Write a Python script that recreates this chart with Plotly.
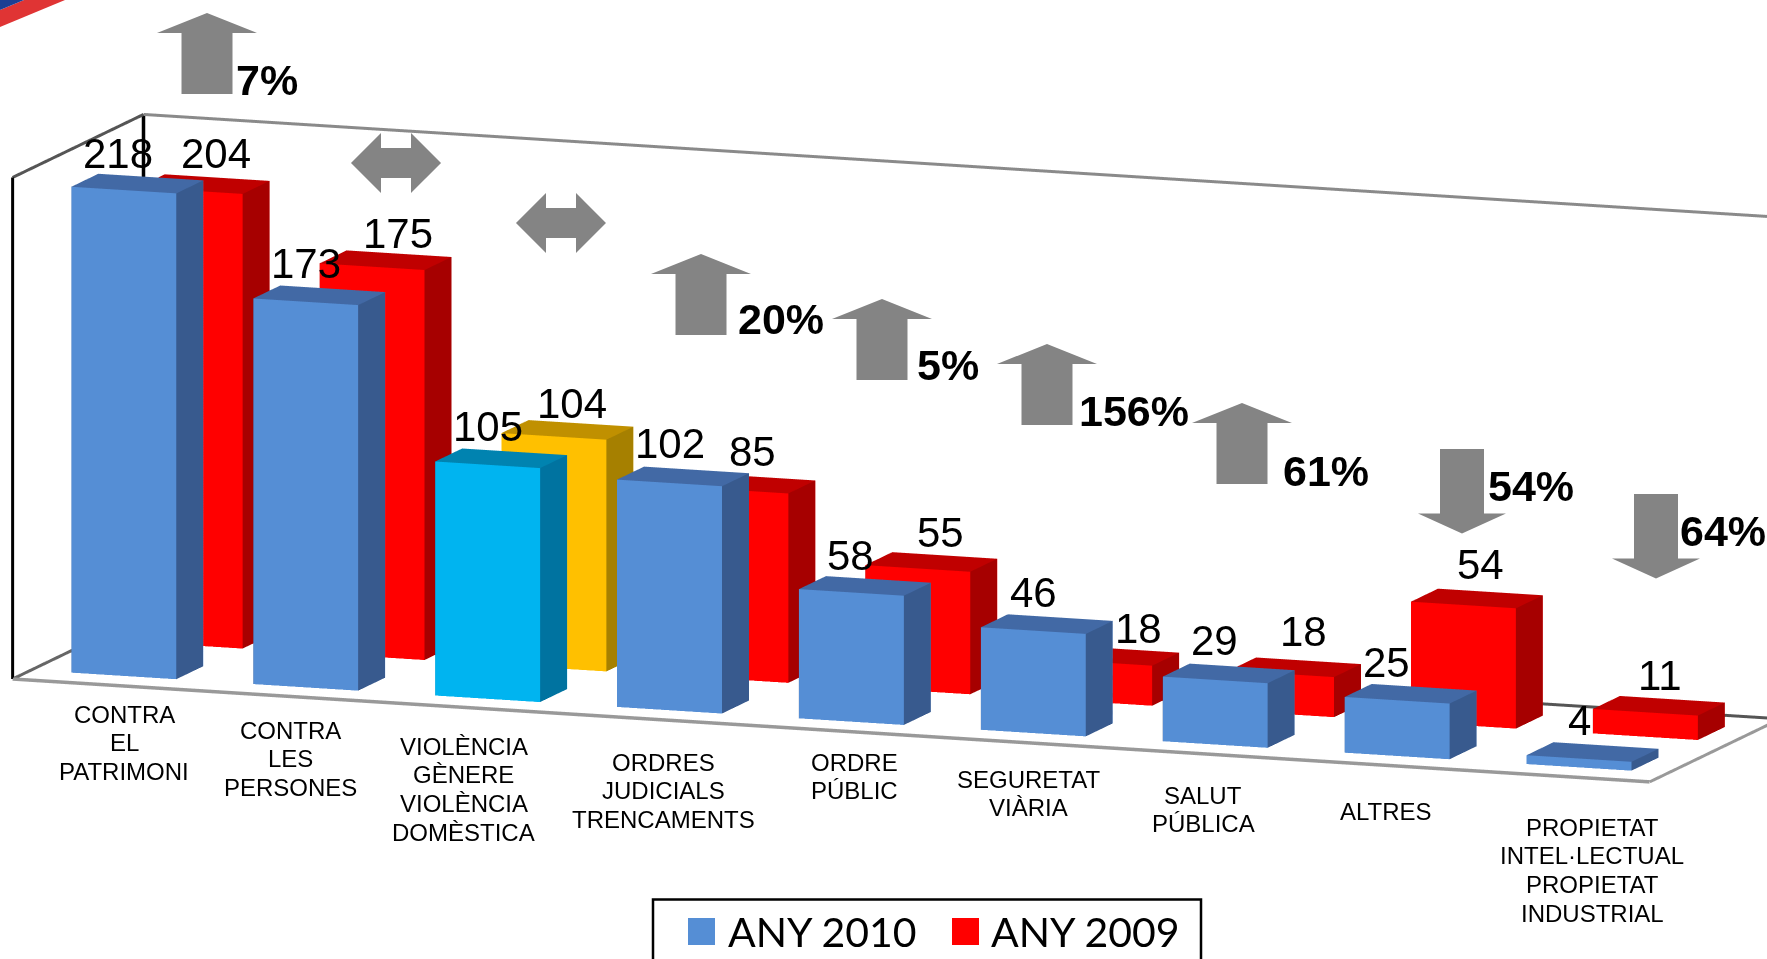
import numpy as np
import plotly.graph_objects as go

W, H = 1767, 959

# ---------- data ----------
categories = [
    ["CONTRA", "EL", "PATRIMONI"],
    ["CONTRA", "LES", "PERSONES"],
    ["VIOLÈNCIA", "GÈNERE", "VIOLÈNCIA", "DOMÈSTICA"],
    ["ORDRES", "JUDICIALS", "TRENCAMENTS"],
    ["ORDRE", "PÚBLIC"],
    ["SEGURETAT", "VIÀRIA"],
    ["SALUT", "PÚBLICA"],
    ["ALTRES"],
    ["PROPIETAT", "INTEL·LECTUAL", "PROPIETAT", "INDUSTRIAL"],
]
any_2010 = [218, 173, 105, 102, 58, 46, 29, 25, 4]
any_2009 = [204, 175, 104, 85, 55, 18, 18, 54, 11]
changes = ["7%", "=", "=", "20%", "5%", "156%", "61%", "54%", "64%"]

# ---------- style ----------
BLUE = ("#558ed5", "#385a8e", "#4269a5")      # front, side, top
RED = ("#ff0000", "#a60000", "#c00000")
CYAN = ("#00b4f0", "#0073a0", "#0083b0")
AMBER = ("#ffc000", "#a68000", "#c09000")
GREY = "#848484"

# target on-screen vectors, pixels per data unit (right, up)
ex = np.array([181.9, -11.43])   # one category
ey = np.array([27.0, 13.0])      # one bar depth
ez = np.array([0.0, 2.229])      # one count
origin_px = np.array([12.6, H - 679.0])  # front-left floor corner
XMAX, YMAX, ZMAX = 9.0, 4.85, 225.0
BAR_W, BAR_X0 = 0.577, 0.222
D_2010, D_2009, RED_DX = 0.68, 3.05, 0.013

# orthographic camera reproducing those vectors
v = -(ex[0] * ex[1]) / (ey[0] * ey[1])
w = ((ex[0]**2 - ex[1]**2) + (ey[0]**2 - ey[1]**2) * v) / ez[1]**2
lx, ly, lz = 1.0, 1 / np.sqrt(v), 1 / np.sqrt(w)
S = np.sqrt(ex[0]**2 + ey[0]**2 * v)
r1 = np.array([ex[0], ey[0] * np.sqrt(v), 0]) / S
r2 = np.array([ex[1], ey[1] * np.sqrt(v), ez[1] * np.sqrt(w)]) / S
n = np.cross(r1, r2)
P = 479.5                # pixels per unit of scene space in orthographic mode
aspect = np.array([XMAX * lx, YMAX * ly, ZMAX * lz]) * S / P
box_c = np.array([XMAX / 2, YMAX / 2, ZMAX / 2])
target = origin_px + box_c[0] * ex + box_c[1] * ey + box_c[2] * ez
shift = target - np.array([W / 2, H / 2])
center = -(shift[0] * r1 + shift[1] * r2) / P
eye = center + n * 2.0


def box_trace(x0, x1, y0, y1, h, cols, name):
    X = [x0, x1, x1, x0, x0, x1, x1, x0]
    Y = [y0, y0, y1, y1, y0, y0, y1, y1]
    Z = [0, 0, 0, 0, h, h, h, h]
    faces = [
        (0, 1, 5, cols[0]), (0, 5, 4, cols[0]),   # front
        (1, 2, 6, cols[1]), (1, 6, 5, cols[1]),   # side
        (4, 5, 6, cols[2]), (4, 6, 7, cols[2]),   # top
        (3, 2, 6, cols[0]), (3, 6, 7, cols[0]),
        (0, 3, 7, cols[1]), (0, 7, 4, cols[1]),
    ]
    return go.Mesh3d(
        x=X, y=Y, z=Z,
        i=[f[0] for f in faces], j=[f[1] for f in faces], k=[f[2] for f in faces],
        facecolor=[f[3] for f in faces], flatshading=True,
        lighting=dict(ambient=1, diffuse=0, specular=0, fresnel=0, roughness=1),
        hoverinfo="skip", name=name, showscale=False,
    )


def line3d(pts, color, width):
    p = np.array(pts, float)
    return go.Scatter3d(x=p[:, 0], y=p[:, 1], z=p[:, 2], mode="lines",
                        line=dict(color=color, width=width), hoverinfo="skip",
                        showlegend=False)


traces = [
    line3d([(0, 0, 0), (0, 0, ZMAX)], "#000000", 6),
    line3d([(0, YMAX, 0), (0, YMAX, ZMAX)], "#000000", 7),
    line3d([(0, 0, ZMAX), (0, YMAX, ZMAX)], "#555555", 6),
    line3d([(0, YMAX, ZMAX), (XMAX, YMAX, ZMAX)], "#8a8a8a", 6),
    line3d([(0, 0, 0), (XMAX, 0, 0)], "#999999", 7),
    line3d([(0, 0, 0), (0, YMAX, 0)], "#666666", 6),
    line3d([(XMAX, 0, 0), (XMAX, YMAX, 0)], "#999999", 6),
    line3d([(0, YMAX, 0), (XMAX, YMAX, 0)], "#555555", 6),
]
annots = []
for i in range(9):
    c10, c09 = (CYAN, AMBER) if i == 2 else (BLUE, RED)
    x0 = i + BAR_X0
    traces.append(box_trace(x0 + RED_DX, x0 + RED_DX + BAR_W, D_2009, D_2009 + 1, any_2009[i], c09, "ANY 2009"))
    traces.append(box_trace(x0, x0 + BAR_W, D_2010, D_2010 + 1, any_2010[i], c10, "ANY 2010"))

blue_nudge = [-6, 0, 0, 0, -1, 0, -1, -11, 0]
red_nudge = [26, 26, 18, 17, 23, 39, 22, 17, 15]
blue_lift = [-1, 0, 0, 1, -1, 0, 1, 0, 0]
red_lift = [-1, -4.5, -5.5, 1, -2, -4.5, 4.5, 2, -1]
scene_ann = []
for i in range(9):
    xc = i + BAR_X0 + BAR_W / 2
    scene_ann.append(dict(x=xc, y=D_2010, z=any_2010[i], text=str(any_2010[i]),
                          showarrow=False, xshift=blue_nudge[i], yshift=38 + blue_lift[i],
                          font=dict(family="Liberation Sans", size=42, color="black")))
    scene_ann.append(dict(x=xc + RED_DX, y=D_2009, z=any_2009[i], text=str(any_2009[i]),
                          showarrow=False, xshift=red_nudge[i], yshift=38 + red_lift[i],
                          font=dict(family="Liberation Sans", size=42, color="black")))

# paper annotations in pixel units
def px(x, y, text, size, anchor="center", bold=False, family="Liberation Sans"):
    return dict(x=x / W, y=1 - y / H, xref="paper", yref="paper", text=f"<b>{text}</b>" if bold else text,
                showarrow=False, xanchor=anchor, yanchor="middle",
                font=dict(family=family, size=size, color="black"))


# category labels: centre x and first-line y (pixels)
label_x = [124, 290, 464, 663, 854, 1028, 1203, 1386, 1592]
label_y = [714, 730, 746, 762, 762, 779, 795, 811, 827]
for cat, lx_, ly_ in zip(categories, label_x, label_y):
    for k, line in enumerate(cat):
        annots.append(px(lx_, ly_ + k * 28.9, line, 24))

# change labels
pct_pos = {0: (233.5, 80), 3: (735.5, 319), 4: (914.5, 365), 5: (1076.5, 411), 6: (1280.5, 471), 7: (1485.5, 486), 8: (1678, 531)}
for i, (a, b) in pct_pos.items():
    annots.append(px(a, b, changes[i], 43, anchor="left", bold=True))

# legend text
annots.append(px(726, 931, "ANY 2010", 41, anchor="left", family="Lato"))
annots.append(px(989, 931, "ANY 2009", 41, anchor="left", family="Lato"))


def path(pts):
    return "M" + "L".join(f"{x/W:.5f},{1-y/H:.5f}" for x, y in pts) + "Z"


def poly(pts, color):
    return dict(type="path", xref="paper", yref="paper", path=path(pts), fillcolor=color,
                line=dict(width=0), layer="above")


def up(cx, top, w=100, sw=51, hh=20, h=81):
    return poly([(cx, top), (cx + w/2, top + hh), (cx + sw/2, top + hh), (cx + sw/2, top + h),
                 (cx - sw/2, top + h), (cx - sw/2, top + hh), (cx - w/2, top + hh)], GREY)


def down(cx, top, w=88, sw=44, hh=20, h=84.5):
    bot = top + h
    return poly([(cx, bot), (cx + w/2, bot - hh), (cx + sw/2, bot - hh), (cx + sw/2, top),
                 (cx - sw/2, top), (cx - sw/2, bot - hh), (cx - w/2, bot - hh)], GREY)


def both(cx, cy, w=90, hl=30, hh=30, sh=15):
    L, R = cx - w/2, cx + w/2
    return poly([(L, cy), (L + hl, cy - hh), (L + hl, cy - sh), (R - hl, cy - sh), (R - hl, cy - hh), (R, cy),
                 (R - hl, cy + hh), (R - hl, cy + sh), (L + hl, cy + sh), (L + hl, cy + hh)], GREY)


shapes = [
    up(207, 13), both(396, 163), both(561, 223), up(701, 254), up(882, 299), up(1047, 344), up(1242, 403),
    down(1462, 449), down(1656, 494),
    poly([(0, 27), (65, 0), (24, 0), (0, 10)], "#e03434"),
    poly([(0, 10), (24, 0), (0, 0)], "#1c3f94"),
    dict(type="rect", xref="paper", yref="paper", x0=653/W, x1=1201/W, y0=1-962/H, y1=1-899.5/H,
         line=dict(color="black", width=2.5), fillcolor="white", layer="above"),
    poly([(688, 918), (715, 918), (715, 945), (688, 945)], BLUE[0]),
    poly([(952, 918), (979, 918), (979, 945), (952, 945)], RED[0]),
]

hidden = dict(visible=False, showgrid=False, zeroline=False, showline=False, showticklabels=False,
              showbackground=False, showspikes=False)
fig = go.Figure(traces)
fig.update_layout(
    width=W, height=H, margin=dict(l=0, r=0, t=0, b=0), showlegend=False,
    paper_bgcolor="white", plot_bgcolor="white",
    annotations=annots, shapes=shapes,
    scene=dict(
        domain=dict(x=[0, 1], y=[0, 1]),
        xaxis=dict(range=[0, XMAX], **hidden),
        yaxis=dict(range=[0, YMAX], **hidden),
        zaxis=dict(range=[0, ZMAX], **hidden),
        aspectmode="manual",
        aspectratio=dict(x=aspect[0], y=aspect[1], z=aspect[2]),
        camera=dict(eye=dict(x=eye[0], y=eye[1], z=eye[2]),
                    center=dict(x=center[0], y=center[1], z=center[2]),
                    up=dict(x=0, y=0, z=1),
                    projection=dict(type="orthographic")),
        annotations=scene_ann,
    ),
)
fig.write_html("out.html", config=dict(displayModeBar=False),
               post_script="document.body.style.margin='0';document.body.style.overflow='hidden';")
